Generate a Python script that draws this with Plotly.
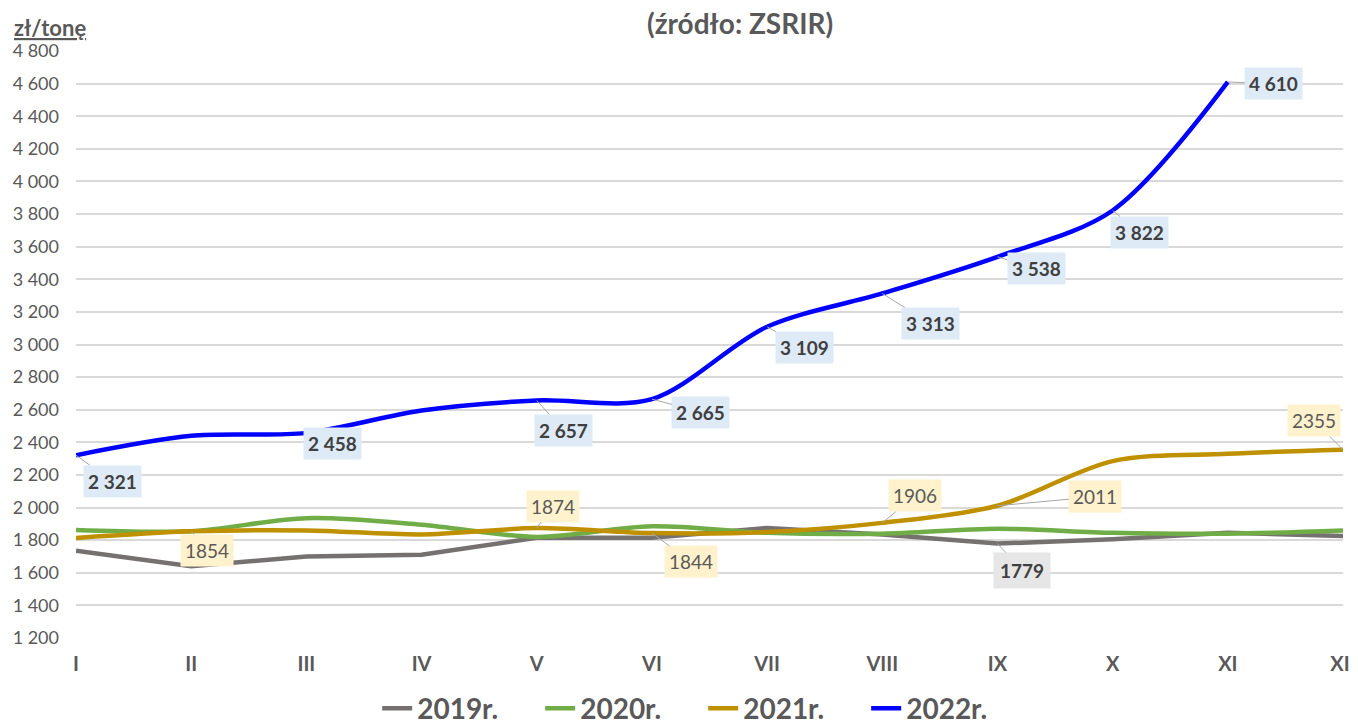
import plotly.graph_objects as go

# Ceny (zł/tonę) wg miesięcy -------------------------------------------------
months = ['I', 'II', 'III', 'IV', 'V', 'VI', 'VII', 'VIII', 'IX', 'X', 'XI', 'XII']
y2019 = [1735, 1640, 1700, 1710, 1815, 1815, 1875, 1835, 1779, 1805, 1845, 1825]
y2020 = [1862, 1855, 1935, 1895, 1820, 1885, 1845, 1840, 1870, 1845, 1840, 1860]
y2021 = [1813, 1854, 1860, 1835, 1874, 1844, 1850, 1906, 2011, 2285, 2330, 2355]
y2022 = [2321, 2440, 2458, 2595, 2657, 2665, 3109, 3313, 3538, 3822, 4610, None]

# etykiety danych: (miesiąc, przesunięcie x, przesunięcie y)
labels_2022 = [(0, 36, 26), (2, 26, 11), (4, 27, 30), (5, 49, 13), (6, 37, 21),
               (7, 48, 30), (8, 39, 12), (9, 27, 22), (10, 46, 2)]
labels_2021 = [(1, 16, 19), (4, 16, -22), (5, 39, 29), (7, 33, -27), (8, 98, -9),
               (11, -29, -29)]
labels_2019 = [(8, 25, 27)]

FONT = 'Lato'
GREY_TXT = '#595959'
x = list(range(len(months)))

fig = go.Figure()
fig.add_trace(go.Scatter(x=x, y=y2019, name='<b>2019r.</b>', mode='lines',
                         line=dict(color='#767171', width=4.5)))
fig.add_trace(go.Scatter(x=x, y=y2020, name='<b>2020r.</b>', mode='lines',
                         line=dict(color='#70AD47', width=4.5, shape='spline', smoothing=0.9)))
fig.add_trace(go.Scatter(x=x, y=y2021, name='<b>2021r.</b>', mode='lines',
                         line=dict(color='#BF9000', width=4.5, shape='spline', smoothing=0.9)))
fig.add_trace(go.Scatter(x=x, y=y2022, name='<b>2022r.</b>', mode='lines',
                         line=dict(color='#0000FF', width=4.5, shape='spline', smoothing=0.9)))


def fmt(v):
    return f'{v:,}'.replace(',', ' ')


for i, dx, dy in labels_2022:
    fig.add_annotation(x=i, y=y2022[i], ax=dx, ay=dy, text='<b>' + fmt(y2022[i]) + '</b>',
                       showarrow=True, arrowhead=0, arrowwidth=1, arrowcolor='#A6A6A6',
                       bgcolor='#DEEBF7', borderpad=4,
                       font=dict(family=FONT, size=19, color='#404040'))
for i, dx, dy in labels_2021:
    fig.add_annotation(x=i, y=y2021[i], ax=dx, ay=dy, text=str(y2021[i]),
                       showarrow=True, arrowhead=0, arrowwidth=1, arrowcolor='#A6A6A6',
                       bgcolor='#FFF2CC', borderpad=4,
                       font=dict(family=FONT, size=19, color=GREY_TXT))
for i, dx, dy in labels_2019:
    fig.add_annotation(x=i, y=y2019[i], ax=dx, ay=dy, text='<b>' + str(y2019[i]) + '</b>',
                       showarrow=True, arrowhead=0, arrowwidth=1, arrowcolor='#A6A6A6',
                       bgcolor='#E7E6E6', borderpad=6,
                       font=dict(family=FONT, size=19, color='#404040'))

fig.add_annotation(x=0.524, y=1.0, xref='paper', yref='paper', yanchor='middle', yshift=28,
                   text='<b>(źródło: ZSRIR)</b>', showarrow=False,
                   font=dict(family=FONT, size=28, color=GREY_TXT))
fig.add_annotation(x=-0.0505, y=1.0, xref='paper', yref='paper', yanchor='middle', yshift=24,
                   xanchor='left', text='<u><b>zł/tonę</b></u>', showarrow=False,
                   font=dict(family=FONT, size=22, color=GREY_TXT))

# strona ma 8px marginesu body, więc figura jest o tyle mniejsza
fig.update_layout(
    width=1350, height=718,
    margin=dict(l=68, r=15, t=43, b=88, autoexpand=False),
    paper_bgcolor='white', plot_bgcolor='white',
    font=dict(family=FONT, color=GREY_TXT),
    showlegend=True,
    legend=dict(orientation='h', x=0.495, xanchor='center', y=-0.12, yanchor='middle',
                font=dict(family=FONT, size=28, color=GREY_TXT), itemwidth=30,
                entrywidth=118, entrywidthmode='pixels',
                traceorder='normal'),
    separators=', ',
)
fig.update_xaxes(tickvals=x, ticktext=['<b>' + m + '</b>' for m in months],
                 range=[0, 11], showgrid=False, zeroline=False, showline=False,
                 automargin=False,
                 tickfont=dict(family=FONT, size=20, color=GREY_TXT), ticklabelstandoff=12)
fig.update_yaxes(range=[1200, 4800], dtick=200, tickformat=',d',
                 showgrid=True, gridcolor='#D9D9D9', gridwidth=1.5, zeroline=False,
                 automargin=False,
                 tickfont=dict(family=FONT, size=18, color=GREY_TXT), ticklabelstandoff=16)

fig.write_html("out.html")
